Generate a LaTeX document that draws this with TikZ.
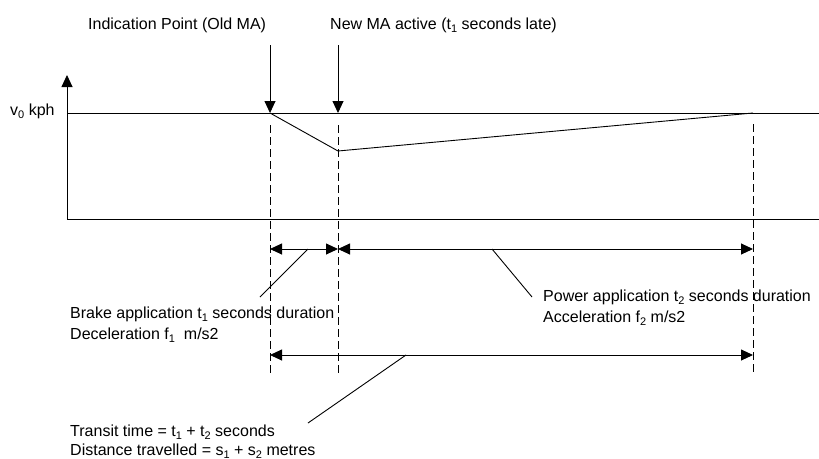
\documentclass[tikz,border=0pt]{standalone}
\usepackage{fontspec}
\setmainfont{Liberation Sans}
\usetikzlibrary{arrows.meta}
% lowered index as used in the labels
\newcommand\lowidx[1]{\raisebox{-3.5pt}{\fontsize{11}{11}\selectfont #1}}
\tikzset{
  thin line/.style={line width=0.9pt, black},
  guide/.style={line width=0.9pt, dash pattern=on 8pt off 4pt},
  tip/.style={-{Triangle[length=12pt,width=11pt]}},
  both tips/.style={{Triangle[length=12pt,width=11pt]}-{Triangle[length=12pt,width=11pt]}},
  label/.style={inner sep=0pt, anchor=base west, font=\fontsize{16}{20}\selectfont},
}
\begin{document}
\begin{tikzpicture}[x=1pt,y=-1pt]
\useasboundingbox (0,0) rectangle (819,458);

% axes and reference levels
\coordinate (origin) at (67,219);
\coordinate (ytop) at (67,75);
\coordinate (v0left) at (67,113);
\coordinate (v0right) at (819,113);
\coordinate (baseright) at (819,219);
\draw[thin line] (v0left) -- (v0right);
\draw[thin line] (origin) -- (baseright);
\draw[thin line, tip] (origin) -- (ytop);

% speed profile
\coordinate (brakestart) at (270,113);
\coordinate (lowpoint) at (338,151);
\coordinate (recovered) at (753,113);
\draw[thin line] (brakestart) -- (lowpoint) -- (recovered);

% indication arrows
\coordinate (ind top) at (270,45);
\coordinate (ma top) at (338,45);
\coordinate (ma point) at (338,113);
\draw[thin line, tip] (ind top) -- (brakestart);
\draw[thin line, tip] (ma top) -- (ma point);

% dashed guides
\coordinate (g1a) at (270,125); \coordinate (g1b) at (270,375);
\coordinate (g2a) at (338,125); \coordinate (g2b) at (338,375);
\coordinate (g3a) at (753,124); \coordinate (g3b) at (753,375);
\draw[guide] (g1a) -- (g1b);
\draw[guide] (g2a) -- (g2b);
\draw[guide] (g3a) -- (g3b);

% dimension arrows
\coordinate (d1a) at (270,249); \coordinate (d1b) at (338,249);
\coordinate (d2b) at (753,249);
\coordinate (d3a) at (270,355); \coordinate (d3b) at (753,355);
\draw[thin line, both tips] (d1a) -- (d1b);
\draw[thin line, both tips] (d1b) -- (d2b);
\draw[thin line, both tips] (d3a) -- (d3b);

% leader lines
\coordinate (brake on) at (308,249); \coordinate (brake end) at (260,297);
\coordinate (power on) at (492,249); \coordinate (power end) at (532,297);
\coordinate (transit on) at (406,355); \coordinate (transit end) at (308,423);
\draw[thin line] (brake on) -- (brake end);
\draw[thin line] (power on) -- (power end);
\draw[thin line] (transit on) -- (transit end);

% texts
\node[label] (v0) at (10,115) {v\lowidx{0} kph};
\node[label] (indication) at (88,29) {Indication Point (Old MA)};
\node[label] (newma) at (330,29) {New MA active (t\lowidx{1} seconds late)};
\node[label] (brake1) at (70,318) {Brake application t\lowidx{1} seconds duration};
\node[label] (brake2) at (70,339) {Deceleration f\lowidx{1}\ \ m/s2};
\node[label] (power1) at (543,301) {Power application t\lowidx{2} seconds duration};
\node[label] (power2) at (543,322) {Acceleration f\lowidx{2} m/s2};
\node[label] (transit1) at (70,436) {Transit time = t\lowidx{1} + t\lowidx{2} seconds};
\node[label] (transit2) at (70,455) {Distance travelled = s\lowidx{1} + s\lowidx{2} metres};
\end{tikzpicture}
\end{document}
